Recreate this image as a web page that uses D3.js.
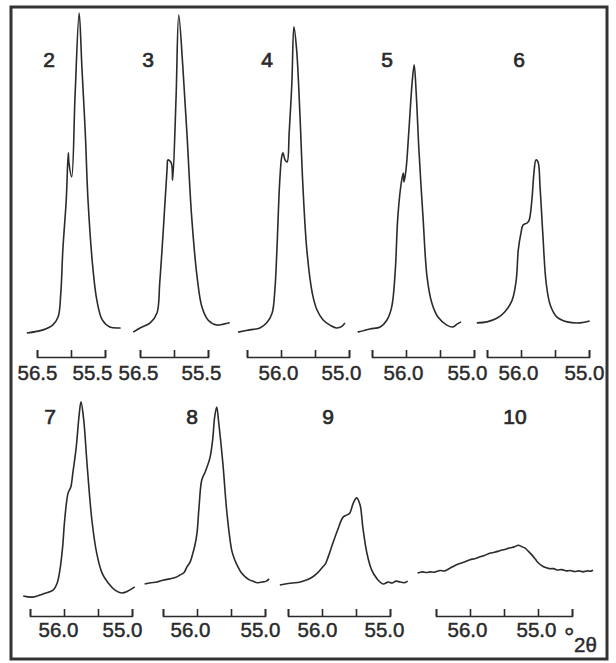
<!DOCTYPE html>
<html>
<head>
<meta charset="utf-8">
<script src="https://cdn.jsdelivr.net/npm/d3@7"></script>
<style>
  body { margin: 0; background: #fff; }
  svg text { font-family: "Liberation Sans", Arial, Helvetica, sans-serif; fill: #2a2a2a; }
</style>
</head>
<body>
<svg id="fig" width="616" height="663"></svg>
<script>
// Diffraction profiles, [°2θ, relative intensity], one per sample
const pattern2 = [[56.65,0.6],[56.41,1.6],[56.27,3.1],[56.19,5.6],[56.15,13.1],[56.12,26.6],[56.07,42.2],[56.04,56.9],[56.03,53.8],[55.99,49.4],[55.94,75],[55.88,100.6],[55.84,83.8],[55.79,63.1],[55.75,42.2],[55.68,21.3],[55.62,10.9],[55.54,4.7],[55.43,2.5],[55.27,2.2]];
const pattern3 = [[56.60,0.9],[56.50,2.2],[56.35,3.8],[56.25,6.9],[56.21,16.3],[56.16,31.9],[56.10,52.5],[56.09,54.7],[56.04,53.8],[56.02,48.4],[55.97,74],[55.93,100],[55.87,83.8],[55.81,63.1],[55.74,36.9],[55.66,18.1],[55.59,8.8],[55.50,4.7],[55.37,3.1],[55.27,3.4],[55.18,3.8]];
const pattern4 = [[56.63,0.9],[56.46,1.6],[56.31,2.2],[56.21,3.8],[56.13,6.9],[56.09,14.1],[56.06,26.6],[56.02,47.5],[55.99,55.6],[55.97,56.9],[55.94,54.7],[55.91,54.1],[55.88,63.1],[55.84,78.8],[55.81,96.3],[55.77,89.1],[55.72,68.1],[55.68,47.5],[55.62,26.6],[55.54,13.1],[55.47,7.8],[55.38,4.7],[55.28,3.1],[55.18,2.2],[55.10,2.8],[55.06,3.8]];
const pattern5 = [[56.71,0.9],[56.53,1.9],[56.38,2.5],[56.28,4.7],[56.21,8.8],[56.16,19.4],[56.12,36.9],[56.07,47.5],[56.04,50.6],[56.03,47.8],[56.00,51.6],[55.96,63.1],[55.91,78.8],[55.88,84.4],[55.85,75.6],[55.81,57.8],[55.75,36.9],[55.69,18.1],[55.62,10],[55.53,5.6],[55.40,3.1],[55.31,2.5],[55.25,3.4],[55.19,4.1]];
const pattern6 = [[56.65,3.8],[56.50,4.1],[56.35,5.3],[56.24,7.2],[56.13,10.9],[56.07,17.2],[56.04,26.6],[56.00,31.9],[55.97,34.4],[55.91,35],[55.88,35.9],[55.84,42.2],[55.81,50.6],[55.78,54.7],[55.75,54.1],[55.72,46.3],[55.68,31.9],[55.63,16.3],[55.57,9.4],[55.47,5.6],[55.32,4.1],[55.13,3.8],[54.99,4.4]];
const pattern7 = [[56.60,1.25],[56.46,0.9],[56.31,1.9],[56.16,3.1],[56.10,5.3],[56.06,9.4],[56.02,16.6],[55.99,25],[55.94,33.4],[55.90,35.3],[55.87,39.7],[55.82,47.8],[55.78,57.2],[55.75,61.9],[55.71,56.3],[55.66,42.2],[55.59,25],[55.52,14.7],[55.44,8.4],[55.35,5.3],[55.25,3.1],[55.15,2.2],[55.06,2.8],[54.96,4.1]];
const pattern8 = [[56.77,5],[56.68,5.4],[56.59,5.6],[56.50,6.2],[56.40,6.6],[56.32,7.0],[56.25,7.8],[56.19,8.6],[56.15,10.3],[56.10,11.9],[56.06,14.7],[56.03,17.2],[56.00,20.9],[55.97,29.1],[55.93,37.5],[55.88,40],[55.81,44.4],[55.77,50],[55.74,57.2],[55.71,60.3],[55.68,55.3],[55.62,42.8],[55.56,27.2],[55.49,15.6],[55.45,12.8],[55.41,10.9],[55.35,8.6],[55.29,7.2],[55.23,6.3],[55.18,5.9],[55.11,5.4],[55.04,5.6],[54.98,5.9],[54.94,6.6]];
const pattern9 = [[56.62,4.7],[56.52,5.1],[56.43,5.3],[56.32,5.6],[56.22,6.3],[56.14,7.2],[56.07,8.4],[55.99,10.3],[55.95,11.3],[55.91,13.4],[55.84,17.8],[55.77,21.9],[55.69,25.9],[55.63,26.6],[55.59,27.2],[55.54,30.3],[55.49,31.9],[55.44,29.7],[55.40,22.8],[55.34,14.7],[55.27,9.4],[55.19,6.6],[55.10,5],[55.03,5.6],[54.97,5.3],[54.91,5.9],[54.85,5.6],[54.79,5.4],[54.74,5.9]];
const pattern10 = [[56.77,8.4],[56.70,8.8],[56.64,8.6],[56.59,8.8],[56.52,8.7],[56.44,9.2],[56.37,9.1],[56.29,10.0],[56.22,10.8],[56.15,11.4],[56.08,11.9],[56.00,12.6],[55.93,12.9],[55.85,13.5],[55.78,14.0],[55.71,14.6],[55.64,14.9],[55.56,15.4],[55.49,15.8],[55.41,16.3],[55.35,16.6],[55.29,17.1],[55.24,16.7],[55.19,16.2],[55.14,15.2],[55.09,14.1],[55.04,12.8],[55.00,11.7],[54.95,10.8],[54.90,10.2],[54.83,9.8],[54.77,9.8],[54.72,9.4],[54.65,9.5],[54.58,9.1],[54.53,9.2],[54.46,8.9],[54.40,9.1],[54.34,8.8],[54.27,9.1],[54.23,9.0],[54.19,9.3]];

// Sample numbers and their 2θ scale bars
const sampleIds    = ["2", "3", "4", "5", "6", "7", "8", "9", "10"];
const patterns     = [pattern2, pattern3, pattern4, pattern5, pattern6, pattern7, pattern8, pattern9, pattern10];
const scaleTicks   = [
  [56.5, 56.0, 55.5],
  [56.5, 56.0, 55.5],
  [56.5, 56.0, 55.5, 55.0],
  [56.5, 56.0, 55.5, 55.0],
  [56.5, 56.0, 55.5, 55.0],
  [56.5, 56.0, 55.5, 55.0],
  [56.5, 56.0, 55.5, 55.0],
  [56.5, 56.0, 55.5, 55.0],
  [56.5, 56.0, 55.5, 55.0, 54.5]
];
const scaleLabels  = [
  [56.5, 55.5],
  [56.5, 55.5],
  [56.0, 55.0],
  [56.0, 55.0],
  [56.0, 55.0],
  [56.0, 55.0],
  [56.0, 55.0],
  [56.0, 55.0],
  [56.0, 55.0]
];
const unitLabel = "2θ";

// ---- layout ----
const svg = d3.select("#fig");
const pxPerDegree = 68;
const panelLeft   = [37, 140, 247, 372, 487, 30, 163, 288, 436];  // x of 56.5°
const panelRow    = [0, 0, 0, 0, 0, 1, 1, 1, 1];
const labelShift  = [[0,-13],[-2,-7],[-3,-8],[-3,-7],[-3,-5],[-6,-10],[-7,-5],[-5,-6],[-3,-2]];
const numberX     = [49, 148, 267, 387, 519, 50, 192, 328, 515];

const rows = [
  { y: d3.scaleLinear().domain([0, 100]).range([335, 15]),  axisY: 357, labelY: 373, numberY: 67 },
  { y: d3.scaleLinear().domain([0, 100]).range([600, 280]), axisY: 616, labelY: 630, numberY: 424 }
];

svg.append("rect")
  .attr("x", 11).attr("y", 7).attr("width", 596).attr("height", 652)
  .attr("fill", "none").attr("stroke", "#333").attr("stroke-width", 3);

patterns.forEach((data, i) => {
  const row = rows[panelRow[i]];
  const x = d3.scaleLinear()
    .domain([56.5, 55.5])
    .range([panelLeft[i], panelLeft[i] + pxPerDegree]);

  const line = d3.line()
    .x(d => x(d[0]))
    .y(d => row.y(d[1]))
    .curve(d3.curveCatmullRom.alpha(0.5));

  svg.append("path")
    .datum(data)
    .attr("d", line)
    .attr("fill", "none")
    .attr("stroke", "#2b2b2b")
    .attr("stroke-width", 1.6)
    .attr("stroke-linejoin", "round");

  // 2θ scale bar: the same mapping, limited to the bar's span
  const ticks = scaleTicks[i];
  const bar = x.copy()
    .domain([ticks[0], ticks[ticks.length - 1]])
    .range([x(ticks[0]), x(ticks[ticks.length - 1])]);

  const labels = scaleLabels[i];
  const axis = d3.axisBottom(bar)
    .tickValues(ticks)
    .tickSizeInner(-7)
    .tickSizeOuter(-7)
    .tickFormat(v => labels.includes(v) ? d3.format(".1f")(v) : "");

  const g = svg.append("g")
    .attr("transform", `translate(0,${row.axisY})`)
    .call(axis);
  g.select(".domain").attr("stroke", "#2b2b2b").attr("stroke-width", 1.6);
  g.selectAll(".tick line").attr("stroke", "#2b2b2b").attr("stroke-width", 1.6);
  g.selectAll(".tick text")
    .attr("font-size", 20.5)
    .attr("fill", "#2a2a2a")
    .attr("stroke", "#2a2a2a")
    .attr("stroke-width", 0.45)
    .attr("dx", v => labels.indexOf(v) === 0 ? labelShift[i][0] : labelShift[i][1])
    .attr("dy", "0.35em")
    .attr("y", row.labelY - row.axisY);

  svg.append("text")
    .attr("x", numberX[i])
    .attr("y", row.numberY)
    .attr("text-anchor", "middle")
    .attr("font-size", 21)
    .attr("stroke", "#2a2a2a")
    .attr("stroke-width", 0.7)
    .text(sampleIds[i]);
});

// unit of the scale bars
svg.append("text")
  .attr("x", 564).attr("y", 646)
  .attr("font-size", 26)
  .attr("stroke", "#2a2a2a").attr("stroke-width", 0.4)
  .text("°");
svg.append("text")
  .attr("x", 574).attr("y", 652)
  .attr("font-size", 20.5)
  .attr("stroke", "#2a2a2a").attr("stroke-width", 0.45)
  .text(unitLabel);
</script>
</body>
</html>
